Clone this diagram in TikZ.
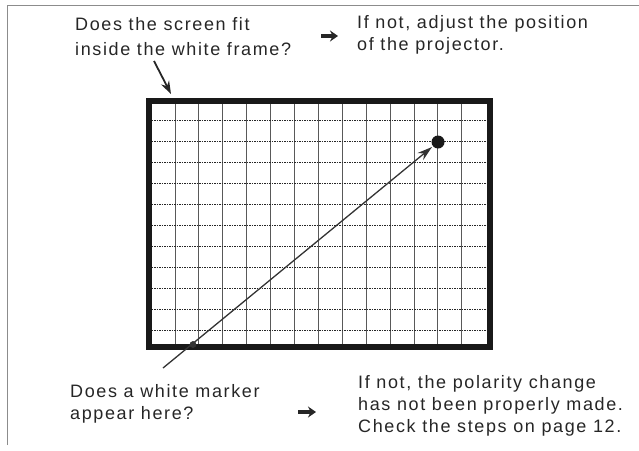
\documentclass[tikz,border=0pt]{standalone}
\usepackage{fontspec}
\setmainfont[LetterSpace=9]{Liberation Sans}
\usetikzlibrary{arrows.meta}
\begin{document}
\begin{tikzpicture}[x=1pt,y=-1pt,
  txt/.style={anchor=base west, inner sep=0pt, font=\fontsize{18}{22}\selectfont, text=black!85},
  fatarrow/.style={line width=3.2pt, black!85, -{Stealth[length=8pt,width=11pt]}},
  pointer/.style={line width=1.8pt, black!85, -{Stealth[length=13pt,width=9pt]}},
  vgrid/.style={line width=1pt, black!65},
  hgrid/.style={line width=1pt, black!85, dash pattern=on 1.6pt off 0.9pt},
  frame/.style={line width=6pt, black!90},
  pageedge/.style={line width=0.7pt, black!45}
]
\useasboundingbox (0,0) rectangle (639,450);
% page edges
\draw[pageedge] (7,445) -- (7,5) -- (639,5);
% grid
\foreach \k in {0,...,12} {
  \draw[vgrid] ({175+23.9*\k},101) -- ({175+23.9*\k},347);
}
\foreach \k in {0,...,10} {
  \draw[hgrid] (149,{120+21*\k}) -- (490,{120+21*\k});
}
% frame
\draw[frame] (149,101) rectangle (490,347);
% marker dot and white marker
\fill[black!90] (438,142) circle (6.5);
\coordinate (start) at (163,368);
\coordinate (tip) at (432,147);
\draw[line width=1.3pt, black!80, -{Stealth[length=15pt,width=9pt]}] (start) -- (tip);
\draw[fill=white, line width=0.7pt, black!80] (193,344.5) circle (3);
% texts
\node[txt] (q1a) at (75,30) {Does the screen fit};
\node[txt] (q1b) at (75,55) {inside the white frame?};
\node[txt] (a1a) at (357,28) {If not, adjust the position};
\node[txt] (a1b) at (357,50) {of the projector.};
\node[txt] (q2a) at (70,397) {Does a white marker};
\node[txt] (q2b) at (70,419) {appear here?};
\node[txt] (a2a) at (358,388) {If not, the polarity change};
\node[txt] (a2b) at (358,410) {has not been properly made.};
\node[txt] (a2c) at (358,432) {Check the steps on page 12.};
% arrows
\coordinate (p1) at (154,61);
\coordinate (p2) at (171,94);
\draw[pointer] (p1) -- (p2);
\coordinate (r1a) at (321,36);
\coordinate (r1b) at (338,36);
\draw[fatarrow] (r1a) -- (r1b);
\coordinate (r2a) at (298,412);
\coordinate (r2b) at (316,412);
\draw[fatarrow] (r2a) -- (r2b);
\end{tikzpicture}
\end{document}
